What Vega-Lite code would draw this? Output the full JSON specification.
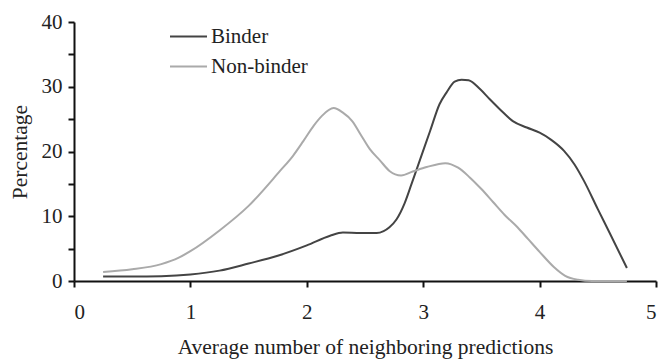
{
  "$schema": "https://vega.github.io/schema/vega-lite/v6.json",
  "width": 582,
  "height": 259,
  "autosize": "none",
  "padding": {"left": 74, "top": 22, "right": 6, "bottom": 79},
  "background": "white",
  "config": {
    "view": {"stroke": null},
    "font": "Liberation Serif",
    "axis": {"grid": false, "domainColor": "#111", "domainWidth": 2, "tickColor": "#111", "tickWidth": 2, "tickSize": 6, "labelFont": "Liberation Serif", "titleFont": "Liberation Serif", "labelFontSize": 21, "titleFontSize": 21.5, "labelColor": "#222", "titleColor": "#222", "titleFontWeight": "normal"}
  },
  "data": {"values": [
    {"x": 0.25, "y": 0.7, "s": "Binder"},
    {"x": 0.5, "y": 0.7, "s": "Binder"},
    {"x": 0.75, "y": 0.75, "s": "Binder"},
    {"x": 1.0, "y": 1.0, "s": "Binder"},
    {"x": 1.25, "y": 1.6, "s": "Binder"},
    {"x": 1.5, "y": 2.7, "s": "Binder"},
    {"x": 1.75, "y": 3.9, "s": "Binder"},
    {"x": 2.0, "y": 5.5, "s": "Binder"},
    {"x": 2.2, "y": 7.0, "s": "Binder"},
    {"x": 2.31, "y": 7.5, "s": "Binder"},
    {"x": 2.46, "y": 7.4, "s": "Binder"},
    {"x": 2.6, "y": 7.4, "s": "Binder"},
    {"x": 2.66, "y": 7.7, "s": "Binder"},
    {"x": 2.71, "y": 8.3, "s": "Binder"},
    {"x": 2.77, "y": 9.5, "s": "Binder"},
    {"x": 2.84, "y": 12.0, "s": "Binder"},
    {"x": 2.9, "y": 15.0, "s": "Binder"},
    {"x": 2.97, "y": 18.6, "s": "Binder"},
    {"x": 3.06, "y": 23.2, "s": "Binder"},
    {"x": 3.14, "y": 27.3, "s": "Binder"},
    {"x": 3.2, "y": 29.1, "s": "Binder"},
    {"x": 3.27, "y": 30.8, "s": "Binder"},
    {"x": 3.33, "y": 31.1, "s": "Binder"},
    {"x": 3.39, "y": 31.0, "s": "Binder"},
    {"x": 3.49, "y": 29.6, "s": "Binder"},
    {"x": 3.57, "y": 28.1, "s": "Binder"},
    {"x": 3.66, "y": 26.5, "s": "Binder"},
    {"x": 3.77, "y": 24.7, "s": "Binder"},
    {"x": 3.89, "y": 23.7, "s": "Binder"},
    {"x": 4.0, "y": 22.9, "s": "Binder"},
    {"x": 4.1, "y": 21.8, "s": "Binder"},
    {"x": 4.21, "y": 20.1, "s": "Binder"},
    {"x": 4.3, "y": 18.0, "s": "Binder"},
    {"x": 4.38, "y": 15.5, "s": "Binder"},
    {"x": 4.5, "y": 11.1, "s": "Binder"},
    {"x": 4.6, "y": 7.5, "s": "Binder"},
    {"x": 4.75, "y": 2.0, "s": "Binder"},
    {"x": 0.25, "y": 1.4, "s": "Non-binder"},
    {"x": 0.5, "y": 1.8, "s": "Non-binder"},
    {"x": 0.75, "y": 2.6, "s": "Non-binder"},
    {"x": 0.9, "y": 3.6, "s": "Non-binder"},
    {"x": 1.0, "y": 4.6, "s": "Non-binder"},
    {"x": 1.25, "y": 7.8, "s": "Non-binder"},
    {"x": 1.5, "y": 11.6, "s": "Non-binder"},
    {"x": 1.77, "y": 17.0, "s": "Non-binder"},
    {"x": 1.88, "y": 19.3, "s": "Non-binder"},
    {"x": 1.97, "y": 21.6, "s": "Non-binder"},
    {"x": 2.06, "y": 24.0, "s": "Non-binder"},
    {"x": 2.13, "y": 25.5, "s": "Non-binder"},
    {"x": 2.23, "y": 26.7, "s": "Non-binder"},
    {"x": 2.31, "y": 26.0, "s": "Non-binder"},
    {"x": 2.39, "y": 24.7, "s": "Non-binder"},
    {"x": 2.47, "y": 22.4, "s": "Non-binder"},
    {"x": 2.54, "y": 20.4, "s": "Non-binder"},
    {"x": 2.63, "y": 18.6, "s": "Non-binder"},
    {"x": 2.71, "y": 17.0, "s": "Non-binder"},
    {"x": 2.81, "y": 16.3, "s": "Non-binder"},
    {"x": 2.91, "y": 16.9, "s": "Non-binder"},
    {"x": 3.03, "y": 17.6, "s": "Non-binder"},
    {"x": 3.19, "y": 18.2, "s": "Non-binder"},
    {"x": 3.3, "y": 17.5, "s": "Non-binder"},
    {"x": 3.4, "y": 16.0, "s": "Non-binder"},
    {"x": 3.5, "y": 14.2, "s": "Non-binder"},
    {"x": 3.6, "y": 12.2, "s": "Non-binder"},
    {"x": 3.7, "y": 10.2, "s": "Non-binder"},
    {"x": 3.81, "y": 8.3, "s": "Non-binder"},
    {"x": 3.9, "y": 6.5, "s": "Non-binder"},
    {"x": 4.0, "y": 4.5, "s": "Non-binder"},
    {"x": 4.12, "y": 2.2, "s": "Non-binder"},
    {"x": 4.22, "y": 0.8, "s": "Non-binder"},
    {"x": 4.33, "y": 0.2, "s": "Non-binder"},
    {"x": 4.45, "y": 0, "s": "Non-binder"},
    {"x": 4.6, "y": 0, "s": "Non-binder"},
    {"x": 4.75, "y": 0, "s": "Non-binder"}
  ]},
  "mark": {"type": "line", "interpolate": "monotone", "strokeWidth": 2},
  "encoding": {
    "x": {"field": "x", "type": "quantitative", "scale": {"domain": [0, 5], "nice": false},
      "axis": {"title": "Average number of neighboring predictions", "values": [0, 1, 2, 3, 4, 5], "labelPadding": 14, "titlePadding": 14}},
    "y": {"field": "y", "type": "quantitative", "scale": {"domain": [0, 40], "nice": false},
      "axis": {"title": "Percentage", "values": [0, 5, 10, 15, 20, 25, 30, 35, 40], "labelExpr": "datum.value % 10 == 0 ? datum.label : ''", "labelPadding": 6, "titlePadding": 10}},
    "color": {"field": "s", "type": "nominal", "scale": {"domain": ["Binder", "Non-binder"], "range": ["#444444", "#aaaaaa"]},
      "legend": {"title": null, "orient": "none", "legendX": 95, "legendY": -5, "symbolType": "stroke", "symbolSize": 1369, "symbolStrokeWidth": 2, "labelFontSize": 21, "labelFont": "Liberation Serif", "labelColor": "#222", "labelOffset": 3, "rowPadding": -3}}
  }
}
